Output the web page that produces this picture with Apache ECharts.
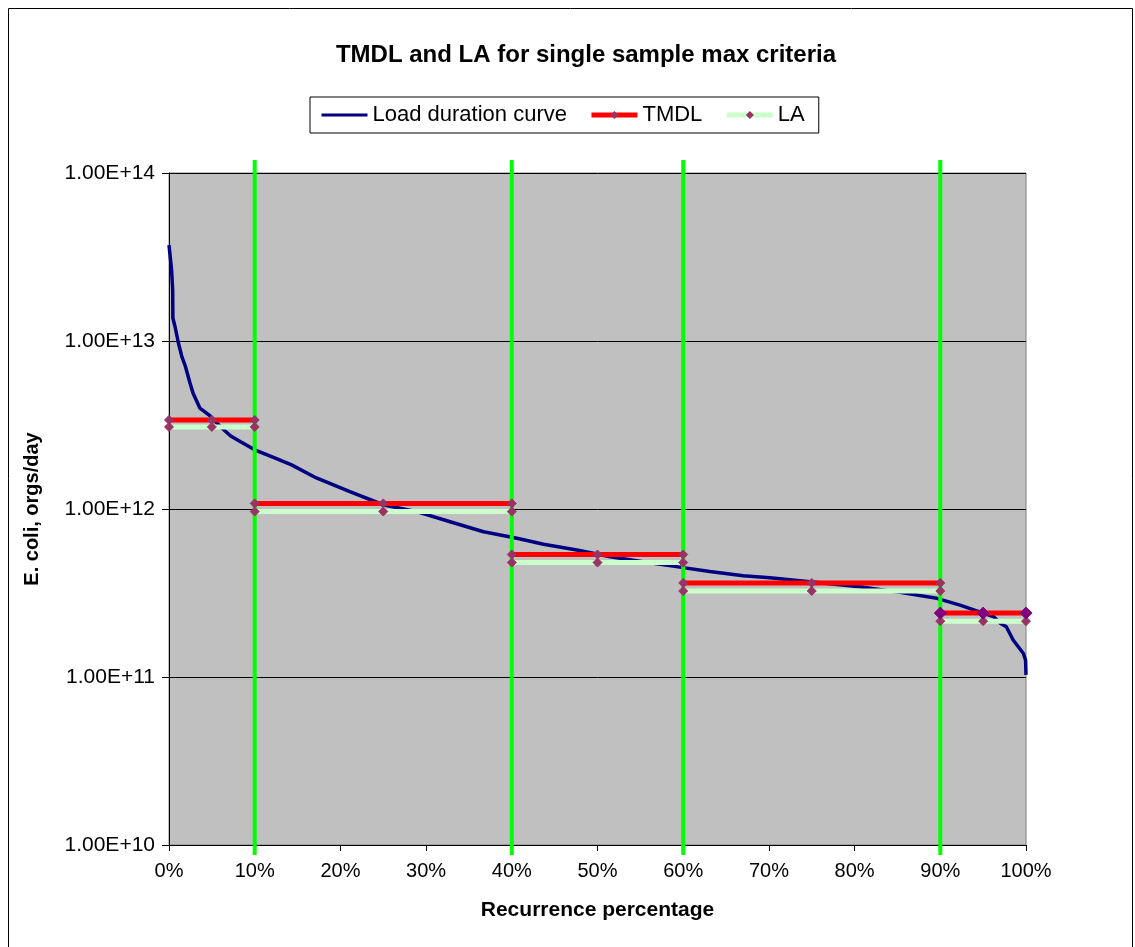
<!DOCTYPE html>
<html>
<head>
<meta charset="utf-8">
<script src="https://cdn.jsdelivr.net/npm/echarts@6/dist/echarts.min.js"></script>
<style>
  html, body { margin: 0; padding: 0; background: #fff; }
  #chart { width: 1135px; height: 947px; }
</style>
</head>
<body>
<div id="chart"></div>
<script>
// load duration curve
const pct = [0, 0.3, 0.43, 0.45, 0.7, 1.1, 1.5, 1.9, 2.45, 2.8, 3.6, 4.8, 6.0, 7.2, 8.3, 10.0,
  12.4, 14.3, 17.2, 21.1, 25.0, 28.9, 32.8, 36.7, 40.6, 43.7, 47.6, 51.5, 55.3, 59.2,
  63.1, 67.0, 70.1, 74.8, 80.6, 85.3, 89.6, 92.3, 96.2, 97.0, 97.7, 98.5, 99.7, 99.95, 100]
const load = [3.73e13, 2.65e13, 2.01e13, 1.37e13, 1.22e13, 9.73e12, 8.07e12, 7.10e12, 5.62e12,
  4.90e12, 3.99e12, 3.58e12, 3.09e12, 2.72e12, 2.52e12, 2.25e12, 2.01e12, 1.83e12, 1.53e12,
  1.27e12, 1.06e12, 9.64e11, 8.40e11, 7.32e11, 6.69e11, 6.17e11, 5.70e11, 5.20e11, 4.86e11,
  4.54e11, 4.24e11, 4.01e11, 3.90e11, 3.69e11, 3.45e11, 3.19e11, 2.94e11, 2.68e11, 2.29e11,
  2.09e11, 1.99e11, 1.66e11, 1.38e11, 1.26e11, 1.03e11]

// flow zones
const zoneStart = [0, 10, 40, 60, 90]
const zoneMid = [5, 25, 50, 75, 95]
const zoneEnd = [10, 40, 60, 90, 100]
const tmdl = [3.39e12, 1.08e12, 5.36e11, 3.63e11, 2.40e11]
const la = [3.08e12, 9.66e11, 4.80e11, 3.25e11, 2.15e11]
const dividers = [10, 40, 60, 90]

const font = '"Liberation Sans", Arial, sans-serif'

function zoneData(vals, bigLast) {
  const out = []
  vals.forEach((v, i) => {
    if (i > 0) out.push([zoneStart[i], '-'])
    ;[zoneStart[i], zoneMid[i], zoneEnd[i]].forEach(x => {
      const p = { value: [x, v] }
      if (bigLast && i === vals.length - 1) {
        p.symbolSize = 12
        p.itemStyle = { color: '#800080', borderColor: '#800080' }
      }
      out.push(p)
    })
  })
  return out
}

const chart = echarts.init(document.getElementById('chart'))

chart.setOption({
  animation: false,
  textStyle: { fontFamily: font },
  title: {
    text: 'TMDL and LA for single sample max criteria',
    left: 581,
    textAlign: 'center',
    top: 38,
    textStyle: { fontSize: 24, fontWeight: 'bold', color: '#000', fontFamily: font }
  },
  legend: {
    left: 310,
    top: 97,
    padding: [7, 14, 7, 10],
    itemGap: 22,
    itemWidth: 46,
    itemHeight: 10,
    borderColor: '#000',
    borderWidth: 1,
    textStyle: { fontSize: 22, color: '#000', fontFamily: font },
    data: [
      { name: 'Load duration curve', itemStyle: { opacity: 0 }, lineStyle: { width: 3 } },
      { name: 'TMDL', lineStyle: { width: 5 } },
      { name: 'LA', lineStyle: { width: 5 } }
    ]
  },
  grid: {
    left: 169,
    right: 109,
    top: 173,
    bottom: 102,
    show: true,
    backgroundColor: '#C0C0C0',
    borderColor: '#808080',
    borderWidth: 1
  },
  xAxis: {
    type: 'value',
    min: 0,
    max: 100,
    interval: 10,
    name: 'Recurrence percentage',
    nameLocation: 'middle',
    nameGap: 55,
    nameTextStyle: { fontSize: 21, fontWeight: 'bold', color: '#000', fontFamily: font },
    axisLine: { lineStyle: { color: '#000', width: 1 } },
    axisTick: { show: true, length: 6, lineStyle: { color: '#000' } },
    axisLabel: { formatter: '{value}%', fontSize: 20, color: '#000', margin: 16, fontFamily: font },
    splitLine: { show: false }
  },
  yAxis: {
    type: 'log',
    logBase: 10,
    min: 1e10,
    max: 1e14,
    name: 'E. coli, orgs/day',
    nameLocation: 'middle',
    nameGap: 127,
    nameTextStyle: { fontSize: 20, fontWeight: 'bold', color: '#000', fontFamily: font },
    axisLine: { show: true, lineStyle: { color: '#000', width: 1 } },
    axisTick: { show: true, length: 7, lineStyle: { color: '#000' } },
    axisLabel: {
      fontSize: 21,
      color: '#000',
      margin: 14,
      fontFamily: font,
      formatter: v => v.toExponential(2).toUpperCase()
    },
    splitLine: { show: true, lineStyle: { color: '#000', width: 1 } }
  },
  series: [
    {
      name: 'Load duration curve',
      type: 'line',
      z: 1,
      data: pct.map((p, i) => [p, load[i]]),
      showSymbol: false,
      symbol: 'none',
      lineStyle: { color: '#000080', width: 3.5 },
      itemStyle: { color: '#000080' }
    },
    {
      name: 'TMDL',
      type: 'line',
      z: 4,
      data: zoneData(tmdl, true),
      connectNulls: false,
      symbol: 'diamond',
      symbolSize: 9,
      lineStyle: { color: '#FF0000', width: 5 },
      itemStyle: { color: '#993366', borderColor: '#993366' }
    },
    {
      name: 'LA',
      type: 'line',
      z: 3,
      data: zoneData(la, false),
      connectNulls: false,
      symbol: 'diamond',
      symbolSize: 9,
      lineStyle: { color: '#CCFFCC', width: 5 },
      itemStyle: { color: '#993366', borderColor: '#993366' }
    }
  ]
})

// zone dividers, a little longer than the plot like the original
function drawDividers() {
  const lines = dividers.map(d => {
    const top = chart.convertToPixel({ gridIndex: 0 }, [d, 1e14])
    const bot = chart.convertToPixel({ gridIndex: 0 }, [d, 1e10])
    return {
      type: 'line',
      z: 2,
      shape: { x1: top[0], y1: top[1] - 13, x2: bot[0], y2: bot[1] + 10 },
      style: { stroke: '#00FF00', lineWidth: 4 }
    }
  })
  lines.push({
    type: 'rect',
    z: 0,
    shape: { x: 8.5, y: 8.5, width: 1124, height: 945 },
    style: { fill: null, stroke: '#000', lineWidth: 1 }
  })
  chart.setOption({ graphic: lines })
}
drawDividers()
</script>
</body>
</html>
